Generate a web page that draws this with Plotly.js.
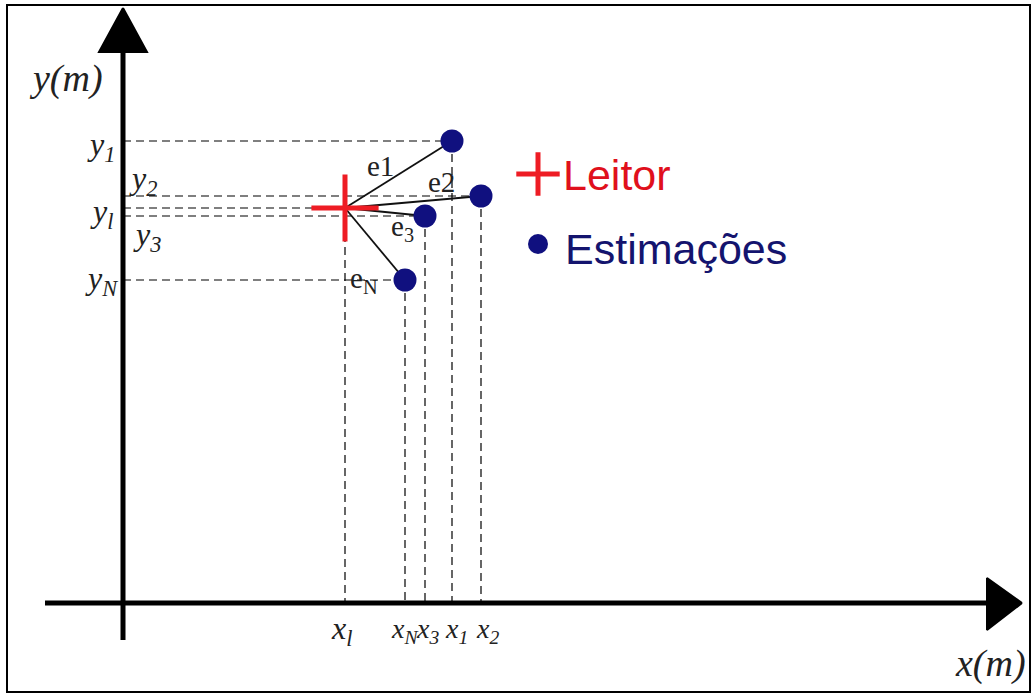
<!DOCTYPE html>
<html><head><meta charset="utf-8">
<script src="https://cdn.plot.ly/plotly-3.0.1.min.js"></script>
<style>html,body{margin:0;padding:0;background:#fff}#chart{width:1036px;height:699px}</style>
</head><body><div id="chart"></div>
<script>
// Diagram coordinates (drawing units, y grows downward)
const readerX = 345, readerY = 208;
const estNames = ["e1", "e2", "e3", "eN"];
const estX = [452, 481, 425, 405];
const estY = [141, 196, 216, 280];
const estLabelX = [380, 441, 402, 364];
const estLabelY = [166, 182, 228, 280];
const estLabels = ["e1", "e2", "e<sub>3</sub>", "e<sub>N</sub>"];
const xTickLabels = ["<i>x<sub>N</sub></i>", "<i>x<sub>3</sub></i>", "<i>x<sub>1</sub></i>", "<i>x<sub>2</sub></i>"];
const xTickPos = [404, 427, 456, 487];
const readerXLabel = "<i>x<sub>l</sub></i>";
const yTickLabels = ["<i>y<sub>1</sub></i>", "<i>y<sub>2</sub></i>", "<i>y<sub>l</sub></i>", "<i>y<sub>3</sub></i>", "<i>y<sub>N</sub></i>"];
const yTickX = [101, 143, 101, 147, 101];
const yTickY = [146, 180, 213, 236, 280];
const axisOriginX = 123, axisOriginY = 603;
const axisTopY = 8, axisRightX = 1022;
const legendText = ["Leitor", "Estimações"];

const traces = [];
// dashed horizontal projections
const dash = {color: "#000", width: 1.2, dash: "8px,5px"};
for (let i = 0; i < estX.length; i++) {
  traces.push({x: [axisOriginX, estX[i]], y: [estY[i], estY[i]], mode: "lines", line: dash, hoverinfo: "skip"});
  traces.push({x: [estX[i], estX[i]], y: [estY[i], axisOriginY], mode: "lines", line: dash, hoverinfo: "skip"});
}
traces.push({x: [axisOriginX, readerX], y: [readerY, readerY], mode: "lines", line: dash, hoverinfo: "skip"});
traces.push({x: [readerX, readerX], y: [readerY, axisOriginY], mode: "lines", line: dash, hoverinfo: "skip"});
// error lines
for (let i = 0; i < estX.length; i++) {
  traces.push({x: [readerX, estX[i]], y: [readerY, estY[i]], mode: "lines", line: {color: "#111", width: 1.8}, hoverinfo: "skip"});
}
// axes
traces.push({x: [axisOriginX, axisOriginX], y: [640, 45], mode: "lines", line: {color: "#000", width: 5}, hoverinfo: "skip"});
traces.push({x: [45, 990], y: [axisOriginY, axisOriginY], mode: "lines", line: {color: "#000", width: 5}, hoverinfo: "skip"});
traces.push({x: [axisOriginX, axisOriginX - 24, axisOriginX + 24, axisOriginX], y: [axisTopY, 52, 52, axisTopY], mode: "lines", fill: "toself", fillcolor: "#000", line: {color: "#000", width: 2}, hoverinfo: "skip"});
traces.push({x: [axisRightX, 987, 987, axisRightX], y: [axisOriginY, 578, 630, axisOriginY], mode: "lines", fill: "toself", fillcolor: "#000", line: {color: "#000", width: 2}, hoverinfo: "skip"});
// reader and estimations
traces.push({x: [readerX], y: [readerY], mode: "markers", marker: {symbol: "cross-thin", size: 48, line: {color: "#ee1c24", width: 5}}, hoverinfo: "skip"});
traces.push({x: estX, y: estY, mode: "markers", marker: {symbol: "circle", size: 23, color: "#10107f"}, hoverinfo: "skip"});
// legend markers
traces.push({x: [538], y: [174], mode: "markers", marker: {symbol: "cross-thin", size: 31, line: {color: "#ee1c24", width: 5}}, hoverinfo: "skip"});
traces.push({x: [538], y: [244], mode: "markers", marker: {symbol: "circle", size: 20, color: "#10107f"}, hoverinfo: "skip"});

const serif = {family: "Liberation Serif, Times New Roman, serif", size: 32, color: "#222"};
const ann = [];
function A(t, x, y, font, xa) { ann.push({text: t, x: x, y: y, xref: "x", yref: "y", showarrow: false, xanchor: xa || "center", yanchor: "middle", font: font}); }
A("<i>y(m)</i>", 66, 78, Object.assign({}, serif, {size: 38}));
A("<i>x(m)</i>", 990, 663, Object.assign({}, serif, {size: 38}));
for (let i = 0; i < yTickLabels.length; i++) A(yTickLabels[i], yTickX[i], yTickY[i], serif);
for (let i = 0; i < xTickLabels.length; i++) A(xTickLabels[i], xTickPos[i], 630, Object.assign({}, serif, {size: 28}));
A(readerXLabel, readerX - 4, 630, serif);
for (let i = 0; i < estLabels.length; i++) A(estLabels[i], estLabelX[i], estLabelY[i], Object.assign({}, serif, {size: 29}));
A(legendText[0], 561, 175, {family: "Liberation Sans, Arial, sans-serif", size: 43, color: "#e0101c"}, "left");
A(legendText[1], 563, 249, {family: "Liberation Sans, Arial, sans-serif", size: 43, color: "#14146e"}, "left");

const layout = {
  width: 1036, height: 699, margin: {l: 0, r: 0, t: 0, b: 0},
  paper_bgcolor: "#fff", plot_bgcolor: "#fff", showlegend: false,
  xaxis: {range: [0, 1036], visible: false, fixedrange: true},
  yaxis: {range: [699, 0], visible: false, fixedrange: true},
  annotations: ann,
  shapes: [{type: "rect", xref: "x", yref: "y", x0: 7, x1: 1030, y0: 5, y1: 692, line: {color: "#000", width: 2}}]
};
Plotly.newPlot("chart", traces, layout, {displayModeBar: false, staticPlot: true});
</script></body></html>
